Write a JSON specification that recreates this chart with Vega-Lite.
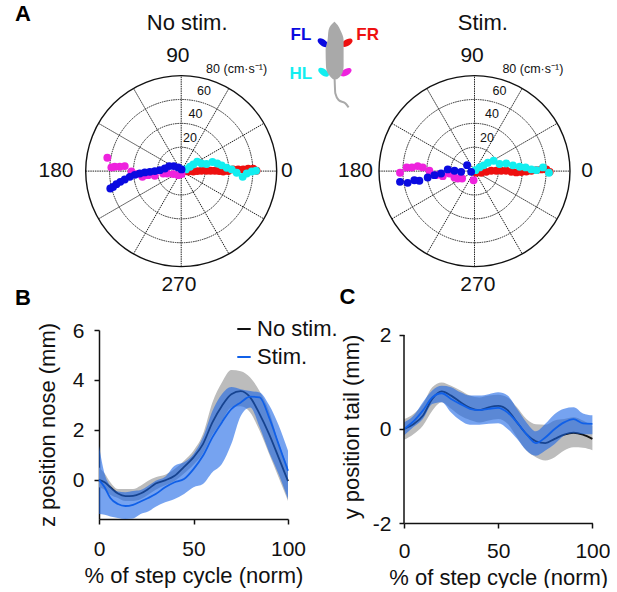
{
  "$schema": "https://vega.github.io/schema/vega-lite/v6.json",
  "padding": 0,
  "background": "white",
  "spacing": -10,
  "resolve": {"scale": {"color": "independent", "size": "independent", "angle": "independent"}},
  "config": {
    "font": "Liberation Sans",
    "view": {"stroke": null},
    "axis": {"grid": false, "domainColor": "#111", "tickColor": "#111", "domainWidth": 1.5, "tickWidth": 1.5, "tickSize": 5, "labelColor": "#111", "titleColor": "#111", "labelFontSize": 21, "titleFontSize": 22, "titleFontWeight": "normal", "labelPadding": 8}
  },
  "datasets": {
    "grid": [
      {"x": -80, "y": 0, "x2": 80, "y2": 0},
      {"x": -69.3, "y": -40, "x2": 69.3, "y2": 40},
      {"x": -40, "y": -69.3, "x2": 40, "y2": 69.3},
      {"x": 0, "y": -80, "x2": 0, "y2": 80},
      {"x": -40, "y": 69.3, "x2": 40, "y2": -69.3},
      {"x": -69.3, "y": 40, "x2": 69.3, "y2": -40}
    ],
    "rings": [
      {"x": 0, "y": 0, "ring": 20},
      {"x": 0, "y": 0, "ring": 40},
      {"x": 0, "y": 0, "ring": 60},
      {"x": 0, "y": 0, "ring": 80}
    ],
    "nostim": [
      {"limb": "FR", "x": 1.7, "y": -0.3}, {"limb": "FR", "x": 5.9, "y": -0.3}, {"limb": "FR", "x": 10.1, "y": -0.3}, {"limb": "FR", "x": 13.4, "y": 0},
      {"limb": "FR", "x": 17, "y": 0.3}, {"limb": "FR", "x": 21.2, "y": 0.3}, {"limb": "FR", "x": 24.6, "y": 0.3}, {"limb": "FR", "x": 28.2, "y": 0.3},
      {"limb": "FR", "x": 31.8, "y": 0}, {"limb": "FR", "x": 35.2, "y": -0.3}, {"limb": "FR", "x": 39.3, "y": 0}, {"limb": "FR", "x": 43.5, "y": 1.4},
      {"limb": "FR", "x": 47.7, "y": 1.4}, {"limb": "FR", "x": 51.9, "y": 1.4}, {"limb": "FR", "x": 56.1, "y": 2}, {"limb": "FR", "x": 60.3, "y": 2}, {"limb": "FR", "x": 63.1, "y": 0.3},
      {"limb": "HL", "x": 0.3, "y": 1.4}, {"limb": "HL", "x": 3.9, "y": 1.4}, {"limb": "HL", "x": 7.3, "y": 3.6}, {"limb": "HL", "x": 10.1, "y": 5.6},
      {"limb": "HL", "x": 13.4, "y": 7.8}, {"limb": "HL", "x": 17, "y": 6.4}, {"limb": "HL", "x": 21.2, "y": 5.9}, {"limb": "HL", "x": 26.2, "y": 7.6},
      {"limb": "HL", "x": 30.2, "y": 6.4}, {"limb": "HL", "x": 33.9, "y": 4.8}, {"limb": "HL", "x": 38.1, "y": 2.8}, {"limb": "HL", "x": 42.3, "y": 1.4},
      {"limb": "HL", "x": 46.5, "y": -1.4}, {"limb": "HL", "x": 51.5, "y": -4.8}, {"limb": "HL", "x": 54.9, "y": -2}, {"limb": "HL", "x": 59.1, "y": -0.3}, {"limb": "HL", "x": 62.7, "y": 0.3},
      {"limb": "HR", "x": 0.3, "y": -2.5}, {"limb": "HR", "x": -2.5, "y": -3.4}, {"limb": "HR", "x": -6.7, "y": -2.5}, {"limb": "HR", "x": -11.8, "y": -2},
      {"limb": "HR", "x": -15.1, "y": -2}, {"limb": "HR", "x": -22.1, "y": -3.9}, {"limb": "HR", "x": -27.7, "y": -3.4}, {"limb": "HR", "x": -32.5, "y": -4.8},
      {"limb": "HR", "x": -37, "y": -2.5}, {"limb": "HR", "x": -41.7, "y": -0.3}, {"limb": "HR", "x": -47.3, "y": 4.2}, {"limb": "HR", "x": -51.5, "y": 3.6},
      {"limb": "HR", "x": -55.7, "y": 3.6}, {"limb": "HR", "x": -58.5, "y": 3.1}, {"limb": "HR", "x": -61.9, "y": 11.2},
      {"limb": "FL", "x": 0.3, "y": 1.4}, {"limb": "FL", "x": -2.5, "y": 3.1}, {"limb": "FL", "x": -6.2, "y": 4.2}, {"limb": "FL", "x": -10.1, "y": 4.2},
      {"limb": "FL", "x": -13.7, "y": 2.2}, {"limb": "FL", "x": -17.9, "y": 0.8}, {"limb": "FL", "x": -22.1, "y": 0}, {"limb": "FL", "x": -26.3, "y": -0.6},
      {"limb": "FL", "x": -30.5, "y": -1.1}, {"limb": "FL", "x": -34.7, "y": -2}, {"limb": "FL", "x": -38.9, "y": -3.1}, {"limb": "FL", "x": -43.1, "y": -4.8},
      {"limb": "FL", "x": -47.3, "y": -7}, {"limb": "FL", "x": -51, "y": -9}, {"limb": "FL", "x": -54.3, "y": -10.9}, {"limb": "FL", "x": -57.1, "y": -13.2}, {"limb": "FL", "x": -59.4, "y": -14.6}
    ],
    "stim": [
      {"limb": "FR", "x": 1.4, "y": -1.4}, {"limb": "FR", "x": 5.6, "y": -1.4}, {"limb": "FR", "x": 9.8, "y": -0.6}, {"limb": "FR", "x": 14, "y": 0.3},
      {"limb": "FR", "x": 18.2, "y": 0.3}, {"limb": "FR", "x": 22.4, "y": 0.3}, {"limb": "FR", "x": 26.6, "y": 0.3}, {"limb": "FR", "x": 30.8, "y": -0.6},
      {"limb": "FR", "x": 35, "y": -1.1}, {"limb": "FR", "x": 39.2, "y": -0.8}, {"limb": "FR", "x": 43.4, "y": -0.3}, {"limb": "FR", "x": 47.6, "y": 0.3},
      {"limb": "FR", "x": 51.8, "y": 0.8}, {"limb": "FR", "x": 56, "y": 1.4}, {"limb": "FR", "x": 60.2, "y": 1.4}, {"limb": "FR", "x": 63, "y": -0.6},
      {"limb": "HL", "x": 0.8, "y": 0.8}, {"limb": "HL", "x": 4.2, "y": 3.1}, {"limb": "HL", "x": 7.6, "y": 4.8}, {"limb": "HL", "x": 11.2, "y": 7},
      {"limb": "HL", "x": 16, "y": 8.7}, {"limb": "HL", "x": 21, "y": 5.9}, {"limb": "HL", "x": 26.6, "y": 6.4}, {"limb": "HL", "x": 32.2, "y": 4.8},
      {"limb": "HL", "x": 37.8, "y": 3.6}, {"limb": "HL", "x": 42.8, "y": 3.1}, {"limb": "HL", "x": 47.6, "y": 1.4}, {"limb": "HL", "x": 51.8, "y": 0.8},
      {"limb": "HL", "x": 57.4, "y": 3.1}, {"limb": "HL", "x": 62.4, "y": -1.4},
      {"limb": "HR", "x": -0.8, "y": -7.6}, {"limb": "HR", "x": -10.4, "y": -6.2}, {"limb": "HR", "x": -14, "y": -6.2}, {"limb": "HR", "x": -16.8, "y": -5.3},
      {"limb": "HR", "x": -21, "y": -2}, {"limb": "HR", "x": -26.6, "y": -4.2}, {"limb": "HR", "x": -32.2, "y": -3.4}, {"limb": "HR", "x": -37.8, "y": 0.3},
      {"limb": "HR", "x": -43.4, "y": 3.1}, {"limb": "HR", "x": -47.6, "y": 4.2}, {"limb": "HR", "x": -52.4, "y": 3.1}, {"limb": "HR", "x": -56.8, "y": 3.1}, {"limb": "HR", "x": -62.4, "y": -1.4},
      {"limb": "FL", "x": -2.8, "y": -0.6}, {"limb": "FL", "x": -6.2, "y": 5}, {"limb": "FL", "x": -11.2, "y": -0.6}, {"limb": "FL", "x": -16.8, "y": 0.3},
      {"limb": "FL", "x": -22.4, "y": 1.4}, {"limb": "FL", "x": -28, "y": -2}, {"limb": "FL", "x": -33.6, "y": -3.4}, {"limb": "FL", "x": -39.2, "y": -5.3},
      {"limb": "FL", "x": -46.2, "y": -8.1}, {"limb": "FL", "x": -50.4, "y": -7.6}, {"limb": "FL", "x": -56, "y": -9.8}, {"limb": "FL", "x": -62.4, "y": -9}
    ],
    "nose": [
      {"pct": 0, "series": "No stim.", "mean": 0, "lo": -0.3, "hi": 0.5},
      {"pct": 3, "series": "No stim.", "mean": -0.1, "lo": -0.4, "hi": 0.25},
      {"pct": 6, "series": "No stim.", "mean": -0.3, "lo": -0.6, "hi": -0.1},
      {"pct": 10, "series": "No stim.", "mean": -0.55, "lo": -0.73, "hi": -0.37},
      {"pct": 14, "series": "No stim.", "mean": -0.65, "lo": -0.85, "hi": -0.37},
      {"pct": 18, "series": "No stim.", "mean": -0.64, "lo": -0.85, "hi": -0.37},
      {"pct": 22, "series": "No stim.", "mean": -0.55, "lo": -0.78, "hi": -0.24},
      {"pct": 26, "series": "No stim.", "mean": -0.37, "lo": -0.6, "hi": -0.04},
      {"pct": 30, "series": "No stim.", "mean": -0.15, "lo": -0.4, "hi": 0.1},
      {"pct": 35, "series": "No stim.", "mean": -0.02, "lo": -0.22, "hi": 0.2},
      {"pct": 40, "series": "No stim.", "mean": 0.16, "lo": -0.05, "hi": 0.43},
      {"pct": 45, "series": "No stim.", "mean": 0.52, "lo": 0.25, "hi": 0.76},
      {"pct": 50, "series": "No stim.", "mean": 0.9, "lo": 0.6, "hi": 1.16},
      {"pct": 55, "series": "No stim.", "mean": 1.43, "lo": 1.05, "hi": 1.83},
      {"pct": 60, "series": "No stim.", "mean": 2.3, "lo": 1.8, "hi": 3.1},
      {"pct": 65, "series": "No stim.", "mean": 2.96, "lo": 2.35, "hi": 3.9},
      {"pct": 70, "series": "No stim.", "mean": 3.43, "lo": 2.9, "hi": 4.4},
      {"pct": 75, "series": "No stim.", "mean": 3.55, "lo": 2.95, "hi": 4.35},
      {"pct": 80, "series": "No stim.", "mean": 3.3, "lo": 2.7, "hi": 4.1},
      {"pct": 85, "series": "No stim.", "mean": 2.63, "lo": 1.96, "hi": 3.55},
      {"pct": 90, "series": "No stim.", "mean": 1.83, "lo": 1.03, "hi": 2.76},
      {"pct": 95, "series": "No stim.", "mean": 0.9, "lo": 0.1, "hi": 1.5},
      {"pct": 100, "series": "No stim.", "mean": -0.05, "lo": -0.85, "hi": 0.5},
      {"pct": 0, "series": "Stim.", "mean": 0, "lo": -1.37, "hi": 1.36},
      {"pct": 3, "series": "Stim.", "mean": -0.3, "lo": -1.4, "hi": 0.23},
      {"pct": 6, "series": "Stim.", "mean": -0.73, "lo": -1.47, "hi": -0.24},
      {"pct": 10, "series": "Stim.", "mean": -0.97, "lo": -1.53, "hi": -0.47},
      {"pct": 14, "series": "Stim.", "mean": -1.05, "lo": -1.57, "hi": -0.5},
      {"pct": 18, "series": "Stim.", "mean": -1, "lo": -1.55, "hi": -0.45},
      {"pct": 22, "series": "Stim.", "mean": -0.87, "lo": -1.37, "hi": -0.41},
      {"pct": 26, "series": "Stim.", "mean": -0.73, "lo": -1.27, "hi": -0.24},
      {"pct": 30, "series": "Stim.", "mean": -0.57, "lo": -1.08, "hi": -0.04},
      {"pct": 35, "series": "Stim.", "mean": -0.3, "lo": -0.9, "hi": 0.12},
      {"pct": 40, "series": "Stim.", "mean": -0.1, "lo": -0.77, "hi": 0.56},
      {"pct": 45, "series": "Stim.", "mean": 0.03, "lo": -0.57, "hi": 0.7},
      {"pct": 50, "series": "Stim.", "mean": 0.43, "lo": -0.3, "hi": 1.03},
      {"pct": 55, "series": "Stim.", "mean": 0.96, "lo": -0.17, "hi": 1.7},
      {"pct": 60, "series": "Stim.", "mean": 1.7, "lo": 0.3, "hi": 2.76},
      {"pct": 65, "series": "Stim.", "mean": 2.3, "lo": 0.63, "hi": 3.43},
      {"pct": 70, "series": "Stim.", "mean": 2.83, "lo": 1.43, "hi": 3.72},
      {"pct": 75, "series": "Stim.", "mean": 3.1, "lo": 2.56, "hi": 3.63},
      {"pct": 80, "series": "Stim.", "mean": 3.33, "lo": 2.9, "hi": 3.56},
      {"pct": 85, "series": "Stim.", "mean": 3.3, "lo": 2.1, "hi": 3.5},
      {"pct": 90, "series": "Stim.", "mean": 2.5, "lo": 1.1, "hi": 3.0},
      {"pct": 95, "series": "Stim.", "mean": 1.43, "lo": 0.23, "hi": 2.2},
      {"pct": 100, "series": "Stim.", "mean": 0.36, "lo": -0.77, "hi": 1.16}
    ],
    "tail": [
      {"pct": 0, "series": "No stim.", "mean": 0, "lo": -0.23, "hi": 0.21},
      {"pct": 5, "series": "No stim.", "mean": 0.1, "lo": -0.11, "hi": 0.32},
      {"pct": 10, "series": "No stim.", "mean": 0.28, "lo": 0.07, "hi": 0.53},
      {"pct": 15, "series": "No stim.", "mean": 0.64, "lo": 0.39, "hi": 0.89},
      {"pct": 20, "series": "No stim.", "mean": 0.8, "lo": 0.57, "hi": 0.99},
      {"pct": 25, "series": "No stim.", "mean": 0.71, "lo": 0.43, "hi": 0.92},
      {"pct": 30, "series": "No stim.", "mean": 0.57, "lo": 0.28, "hi": 0.82},
      {"pct": 35, "series": "No stim.", "mean": 0.45, "lo": 0.19, "hi": 0.71},
      {"pct": 40, "series": "No stim.", "mean": 0.4, "lo": 0.14, "hi": 0.67},
      {"pct": 45, "series": "No stim.", "mean": 0.46, "lo": 0.18, "hi": 0.71},
      {"pct": 50, "series": "No stim.", "mean": 0.49, "lo": 0.21, "hi": 0.73},
      {"pct": 55, "series": "No stim.", "mean": 0.4, "lo": 0.11, "hi": 0.67},
      {"pct": 60, "series": "No stim.", "mean": 0.14, "lo": -0.18, "hi": 0.46},
      {"pct": 65, "series": "No stim.", "mean": -0.11, "lo": -0.46, "hi": 0.21},
      {"pct": 70, "series": "No stim.", "mean": -0.26, "lo": -0.6, "hi": 0.1},
      {"pct": 75, "series": "No stim.", "mean": -0.3, "lo": -0.67, "hi": 0.09},
      {"pct": 80, "series": "No stim.", "mean": -0.21, "lo": -0.6, "hi": 0.18},
      {"pct": 85, "series": "No stim.", "mean": -0.12, "lo": -0.46, "hi": 0.21},
      {"pct": 90, "series": "No stim.", "mean": -0.08, "lo": -0.39, "hi": 0.25},
      {"pct": 95, "series": "No stim.", "mean": -0.12, "lo": -0.4, "hi": 0.18},
      {"pct": 100, "series": "No stim.", "mean": -0.21, "lo": -0.45, "hi": 0.07},
      {"pct": 0, "series": "Stim.", "mean": 0, "lo": -0.14, "hi": 0.14},
      {"pct": 5, "series": "Stim.", "mean": 0.16, "lo": 0.04, "hi": 0.28},
      {"pct": 10, "series": "Stim.", "mean": 0.39, "lo": 0.21, "hi": 0.57},
      {"pct": 15, "series": "Stim.", "mean": 0.67, "lo": 0.53, "hi": 0.82},
      {"pct": 20, "series": "Stim.", "mean": 0.76, "lo": 0.57, "hi": 0.92},
      {"pct": 25, "series": "Stim.", "mean": 0.64, "lo": 0.35, "hi": 0.89},
      {"pct": 30, "series": "Stim.", "mean": 0.53, "lo": 0.18, "hi": 0.78},
      {"pct": 35, "series": "Stim.", "mean": 0.43, "lo": 0.09, "hi": 0.71},
      {"pct": 40, "series": "Stim.", "mean": 0.4, "lo": 0.09, "hi": 0.71},
      {"pct": 45, "series": "Stim.", "mean": 0.43, "lo": 0.11, "hi": 0.74},
      {"pct": 50, "series": "Stim.", "mean": 0.45, "lo": 0.12, "hi": 0.78},
      {"pct": 55, "series": "Stim.", "mean": 0.35, "lo": 0, "hi": 0.71},
      {"pct": 60, "series": "Stim.", "mean": 0.14, "lo": -0.21, "hi": 0.43},
      {"pct": 65, "series": "Stim.", "mean": -0.11, "lo": -0.46, "hi": 0.14},
      {"pct": 70, "series": "Stim.", "mean": -0.3, "lo": -0.57, "hi": -0.05},
      {"pct": 75, "series": "Stim.", "mean": -0.18, "lo": -0.46, "hi": 0.11},
      {"pct": 80, "series": "Stim.", "mean": 0, "lo": -0.32, "hi": 0.32},
      {"pct": 85, "series": "Stim.", "mean": 0.14, "lo": -0.14, "hi": 0.43},
      {"pct": 90, "series": "Stim.", "mean": 0.21, "lo": -0.09, "hi": 0.46},
      {"pct": 95, "series": "Stim.", "mean": 0.12, "lo": -0.11, "hi": 0.33},
      {"pct": 100, "series": "Stim.", "mean": 0.11, "lo": -0.11, "hi": 0.29}
    ],
    "body": [
      {"my": 21.7, "left": 57.3, "right": 57.6},
      {"my": 25, "left": 54, "right": 60.6},
      {"my": 30, "left": 51.6, "right": 63.3},
      {"my": 40, "left": 50.6, "right": 66.6},
      {"my": 50, "left": 48.6, "right": 66.6},
      {"my": 66.7, "left": 49, "right": 66.6},
      {"my": 75, "left": 52, "right": 64.3},
      {"my": 79.3, "left": 56, "right": 60}
    ],
    "tailline": [
      {"mx": 57.6, "my": 78.3},
      {"mx": 58.3, "my": 93.3},
      {"mx": 61.6, "my": 100},
      {"mx": 68.3, "my": 103.3},
      {"mx": 71.6, "my": 107.3}
    ],
    "paws": [
      {"limb": "FL", "mx": 46, "my": 42.7, "side": "left", "lx": 23.9, "ly": 35},
      {"limb": "FR", "mx": 70, "my": 42.7, "side": "right", "lx": 90.6, "ly": 35},
      {"limb": "HL", "mx": 46.6, "my": 72.3, "side": "left", "lx": 23.9, "ly": 74},
      {"limb": "HR", "mx": 69, "my": 72.3, "side": "right"}
    ]
  },
  "vconcat": [
    {
      "bounds": "flush",
      "spacing": 0,
      "hconcat": [
        {
          "width": 276.7,
          "height": 266.7,
          "encoding": {
            "x": {"field": "x", "type": "quantitative", "axis": null, "scale": {"domain": [-151.8, 80]}},
            "y": {"field": "y", "type": "quantitative", "axis": null, "scale": {"domain": [-80, 143.2]}}
          },
          "layer": [
            {
              "data": {"name": "grid"},
              "mark": {"type": "rule", "color": "#222", "strokeWidth": 1, "strokeDash": [1.5, 0.8]},
              "encoding": {"x2": {"field": "x2"}, "y2": {"field": "y2"}}
            },
            {
              "data": {"name": "rings"},
              "transform": [{"filter": "datum.ring < 80"}],
              "mark": {"type": "point", "filled": false, "opacity": 1, "color": "#222", "strokeWidth": 1, "strokeDash": [1.5, 0.8]},
              "encoding": {"size": {"field": "ring", "type": "quantitative", "legend": null, "scale": {"type": "pow", "exponent": 2, "domain": [0, 80], "range": [0, 36481]}}}
            },
            {
              "data": {"name": "rings"},
              "transform": [{"filter": "datum.ring == 80"}],
              "mark": {"type": "point", "filled": false, "opacity": 1, "color": "#111", "strokeWidth": 1.4},
              "encoding": {"size": {"field": "ring", "type": "quantitative", "legend": null, "scale": {"type": "pow", "exponent": 2, "domain": [0, 80], "range": [0, 36481]}}}
            },
            {
              "data": {"name": "nostim"},
              "mark": {"type": "point", "filled": true, "opacity": 1, "size": 62},
              "encoding": {"color": {"field": "limb", "type": "nominal", "legend": null, "scale": {"domain": ["FR", "HL", "HR", "FL"], "range": ["#ee1010", "#12eef0", "#ee22dd", "#0a0ae0"]}}}
            },
            {
              "data": {"values": [
                {"x": -2.8, "y": 96.6, "label": "90"},
                {"x": -104.9, "y": 0, "label": "180"},
                {"x": 88.5, "y": 0, "label": "0"},
                {"x": -1.9, "y": -95.5, "label": "270"}
              ]},
              "mark": {"type": "text", "fontSize": 21, "color": "#111"},
              "encoding": {"text": {"field": "label"}}
            },
            {
              "data": {"values": [{"x": 5, "y": 124, "label": "No stim."}]},
              "mark": {"type": "text", "fontSize": 22, "color": "#111"},
              "encoding": {"text": {"field": "label"}}
            },
            {
              "data": {"values": [
                {"x": 7.3, "y": 27.6, "label": "20"},
                {"x": 12, "y": 47.5, "label": "40"},
                {"x": 19, "y": 67, "label": "60"},
                {"x": 46.4, "y": 85.2, "label": "80 (cm·s⁻¹)"}
              ]},
              "mark": {"type": "text", "fontSize": 12.5, "color": "#111"},
              "encoding": {"text": {"field": "label"}}
            },
            {
              "data": {"values": [{"x": -132.5, "y": 131.5, "label": "A"}]},
              "mark": {"type": "text", "fontSize": 22, "fontWeight": "bold", "color": "#000"},
              "encoding": {"text": {"field": "label"}}
            }
          ]
        },
        {
          "width": 101.3,
          "height": 266.7,
          "encoding": {
            "x": {"field": "mx", "type": "quantitative", "axis": null, "scale": {"domain": [0, 101.3]}},
            "y": {"field": "my", "type": "quantitative", "axis": null, "scale": {"domain": [266.7, 0]}}
          },
          "layer": [
            {
              "data": {"name": "paws"},
              "mark": {"type": "point", "filled": true, "opacity": 1, "size": 150, "shape": "M-1,0C-1,-0.7,1,-0.7,1,0C1,0.7,-1,0.7,-1,0Z"},
              "encoding": {
                "angle": {"field": "side", "type": "nominal", "legend": null, "scale": {"domain": ["left", "right"], "range": [35, -30]}},
                "color": {"field": "limb", "type": "nominal", "legend": null, "scale": {"domain": ["FR", "HL", "HR", "FL"], "range": ["#ee1010", "#12eef0", "#ee22dd", "#0a0ae0"]}}
              }
            },
            {
              "data": {"name": "tailline"},
              "mark": {"type": "line", "color": "#a9a9a9", "strokeWidth": 2, "interpolate": "monotone", "orient": "vertical"},
              "encoding": {}
            },
            {
              "data": {"name": "body"},
              "mark": {"type": "area", "color": "#a9a9a9", "orient": "horizontal", "interpolate": "monotone"},
              "encoding": {
                "x": {"field": "left", "type": "quantitative", "axis": null, "scale": {"domain": [0, 101.3]}},
                "x2": {"field": "right"}
              }
            },
            {
              "data": {"name": "paws"},
              "transform": [{"filter": "datum.limb != 'HR'"}],
              "mark": {"type": "text", "fontSize": 17, "fontWeight": "bold"},
              "encoding": {
                "x": {"field": "lx", "type": "quantitative", "axis": null, "scale": {"domain": [0, 101.3]}},
                "y": {"field": "ly", "type": "quantitative", "axis": null, "scale": {"domain": [266.7, 0]}},
                "text": {"field": "limb"},
                "color": {"field": "limb", "type": "nominal", "legend": null, "scale": {"domain": ["FR", "HL", "HR", "FL"], "range": ["#ee1010", "#12eef0", "#ee22dd", "#0a0ae0"]}}
              }
            }
          ]
        },
        {
          "width": 191,
          "height": 266.7,
          "encoding": {
            "x": {"field": "x", "type": "quantitative", "axis": null, "scale": {"domain": [-80, 80]}},
            "y": {"field": "y", "type": "quantitative", "axis": null, "scale": {"domain": [-80, 143.2]}}
          },
          "layer": [
            {
              "data": {"name": "grid"},
              "mark": {"type": "rule", "color": "#222", "strokeWidth": 1, "strokeDash": [1.5, 0.8]},
              "encoding": {"x2": {"field": "x2"}, "y2": {"field": "y2"}}
            },
            {
              "data": {"name": "rings"},
              "transform": [{"filter": "datum.ring < 80"}],
              "mark": {"type": "point", "filled": false, "opacity": 1, "color": "#222", "strokeWidth": 1, "strokeDash": [1.5, 0.8]},
              "encoding": {"size": {"field": "ring", "type": "quantitative", "legend": null, "scale": {"type": "pow", "exponent": 2, "domain": [0, 80], "range": [0, 36481]}}}
            },
            {
              "data": {"name": "rings"},
              "transform": [{"filter": "datum.ring == 80"}],
              "mark": {"type": "point", "filled": false, "opacity": 1, "color": "#111", "strokeWidth": 1.4},
              "encoding": {"size": {"field": "ring", "type": "quantitative", "legend": null, "scale": {"type": "pow", "exponent": 2, "domain": [0, 80], "range": [0, 36481]}}}
            },
            {
              "data": {"name": "stim"},
              "mark": {"type": "point", "filled": true, "opacity": 1, "size": 62},
              "encoding": {"color": {"field": "limb", "type": "nominal", "legend": null, "scale": {"domain": ["FR", "HL", "HR", "FL"], "range": ["#ee1010", "#12eef0", "#ee22dd", "#0a0ae0"]}}}
            },
            {
              "data": {"values": [
                {"x": -2, "y": 96.6, "label": "90"},
                {"x": -99.7, "y": 0, "label": "180"},
                {"x": 94.4, "y": 0, "label": "0"},
                {"x": 2.8, "y": -95.5, "label": "270"}
              ]},
              "mark": {"type": "text", "fontSize": 21, "color": "#111"},
              "encoding": {"text": {"field": "label"}}
            },
            {
              "data": {"values": [{"x": 7, "y": 124, "label": "Stim."}]},
              "mark": {"type": "text", "fontSize": 22, "color": "#111"},
              "encoding": {"text": {"field": "label"}}
            },
            {
              "data": {"values": [
                {"x": 10.4, "y": 28, "label": "20"},
                {"x": 14.6, "y": 47.5, "label": "40"},
                {"x": 21, "y": 67, "label": "60"},
                {"x": 48.9, "y": 85.2, "label": "80 (cm·s⁻¹)"}
              ]},
              "mark": {"type": "text", "fontSize": 12.5, "color": "#111"},
              "encoding": {"text": {"field": "label"}}
            }
          ]
        }
      ]
    },
    {
      "bounds": "flush",
      "spacing": 0,
      "hconcat": [
        {
          "width": 99,
          "height": 189,
          "data": {"values": []},
          "mark": {"type": "text"},
          "encoding": {}
        },
        {
          "width": 189,
          "height": 189,
          "data": {"name": "nose"},
          "encoding": {
            "x": {"field": "pct", "type": "quantitative", "scale": {"domain": [0, 100]}, "axis": {"values": [0, 50, 100], "title": "% of step cycle (norm)", "labelFlush": false, "labelPadding": 14, "titlePadding": 6}}
          },
          "layer": [
            {
              "transform": [{"filter": "datum.series == 'No stim.'"}],
              "mark": {"type": "area", "color": "#bcbcbc", "interpolate": "monotone"},
              "encoding": {
                "y": {"field": "lo", "type": "quantitative", "scale": {"domain": [-1.57, 6]}, "axis": {"values": [0, 2, 4, 6], "title": "z position nose (mm)", "labelPadding": 10, "labelOffset": 1, "titlePadding": 13}},
                "y2": {"field": "hi"}
              }
            },
            {
              "transform": [{"filter": "datum.series == 'No stim.'"}],
              "mark": {"type": "line", "strokeWidth": 1.8, "interpolate": "monotone"},
              "encoding": {
                "y": {"field": "mean", "type": "quantitative", "scale": {"domain": [-1.57, 6]}, "axis": {"values": [0, 2, 4, 6], "title": "z position nose (mm)", "labelPadding": 10, "labelOffset": 1, "titlePadding": 13}},
                "color": {"field": "series", "type": "nominal", "scale": {"domain": ["No stim.", "Stim."], "range": ["#111111", "#1060e8"]}, "legend": {"title": null, "orient": "none", "legendX": 233, "legendY": -12, "symbolType": "stroke", "symbolSize": 180, "symbolStrokeWidth": 2, "labelFontSize": 22, "labelColor": "#111", "rowPadding": 6, "labelOffset": 2}}
              }
            },
            {
              "transform": [{"filter": "datum.series == 'Stim.'"}],
              "mark": {"type": "area", "color": "#1b66e6", "opacity": 0.6, "interpolate": "monotone"},
              "encoding": {
                "y": {"field": "lo", "type": "quantitative", "scale": {"domain": [-1.57, 6]}, "axis": {"values": [0, 2, 4, 6], "title": "z position nose (mm)", "labelPadding": 10, "labelOffset": 1, "titlePadding": 13}},
                "y2": {"field": "hi"}
              }
            },
            {
              "transform": [{"filter": "datum.series == 'Stim.'"}],
              "mark": {"type": "line", "strokeWidth": 1.8, "interpolate": "monotone"},
              "encoding": {
                "y": {"field": "mean", "type": "quantitative", "scale": {"domain": [-1.57, 6]}, "axis": {"values": [0, 2, 4, 6], "title": "z position nose (mm)", "labelPadding": 10, "labelOffset": 1, "titlePadding": 13}},
                "color": {"field": "series", "type": "nominal", "scale": {"domain": ["No stim.", "Stim."], "range": ["#111111", "#1060e8"]}, "legend": {"title": null, "orient": "none", "legendX": 233, "legendY": -12, "symbolType": "stroke", "symbolSize": 180, "symbolStrokeWidth": 2, "labelFontSize": 22, "labelColor": "#111", "rowPadding": 6, "labelOffset": 2}}
              }
            },
            {
              "data": {"values": [{"pct": -40.2, "mean": 7.29, "label": "B"}]},
              "mark": {"type": "text", "fontSize": 22, "fontWeight": "bold", "color": "#000"},
              "encoding": {
                "y": {"field": "mean", "type": "quantitative", "scale": {"domain": [-1.57, 6]}, "axis": {"values": [0, 2, 4, 6], "title": "z position nose (mm)", "labelPadding": 10, "labelOffset": 1, "titlePadding": 13}},
                "text": {"field": "label"}
              }
            }
          ]
        },
        {
          "width": 115.3,
          "height": 189,
          "data": {"values": []},
          "mark": {"type": "text"},
          "encoding": {}
        },
        {
          "width": 188.4,
          "height": 193,
          "data": {"name": "tail"},
          "encoding": {
            "x": {"field": "pct", "type": "quantitative", "scale": {"domain": [0, 100]}, "axis": {"values": [0, 50, 100], "title": "% of step cycle (norm)", "labelFlush": false, "labelPadding": 12, "titlePadding": 6}},
            "y": {"field": "lo", "type": "quantitative", "scale": {"domain": [-2, 2.106]}, "axis": {"values": [-2, 0, 2], "title": "y position tail (mm)", "titlePadding": 9, "domain": false, "labelOffset": 1, "labelExpr": "'' + datum.value"}}
          },
          "layer": [
            {
              "transform": [{"filter": "datum.series == 'No stim.'"}],
              "mark": {"type": "area", "color": "#bcbcbc", "interpolate": "monotone"},
              "encoding": {"y2": {"field": "hi"}}
            },
            {
              "transform": [{"filter": "datum.series == 'No stim.'"}],
              "mark": {"type": "line", "color": "#111111", "strokeWidth": 1.8, "interpolate": "monotone"},
              "encoding": {"y": {"field": "mean", "type": "quantitative", "scale": {"domain": [-2, 2.106]}, "axis": {"values": [-2, 0, 2], "title": "y position tail (mm)", "titlePadding": 9, "domain": false, "labelOffset": 1, "labelExpr": "'' + datum.value"}}}
            },
            {
              "transform": [{"filter": "datum.series == 'Stim.'"}],
              "mark": {"type": "area", "color": "#1b66e6", "opacity": 0.6, "interpolate": "monotone"},
              "encoding": {"y2": {"field": "hi"}}
            },
            {
              "transform": [{"filter": "datum.series == 'Stim.'"}],
              "mark": {"type": "line", "color": "#1060e8", "strokeWidth": 1.8, "interpolate": "monotone"},
              "encoding": {"y": {"field": "mean", "type": "quantitative", "scale": {"domain": [-2, 2.106]}, "axis": {"values": [-2, 0, 2], "title": "y position tail (mm)", "titlePadding": 9, "domain": false, "labelOffset": 1, "labelExpr": "'' + datum.value"}}}
            },
            {
              "data": {"values": [{"pct": 0, "lo": -2, "hi": 2}]},
              "mark": {"type": "rule", "color": "#111", "strokeWidth": 1.5},
              "encoding": {"y2": {"field": "hi"}}
            },
            {
              "data": {"values": [{"pct": -30, "lo": 2.8, "label": "C"}]},
              "mark": {"type": "text", "fontSize": 22, "fontWeight": "bold", "color": "#000"},
              "encoding": {"text": {"field": "label"}}
            }
          ]
        }
      ]
    }
  ]
}
